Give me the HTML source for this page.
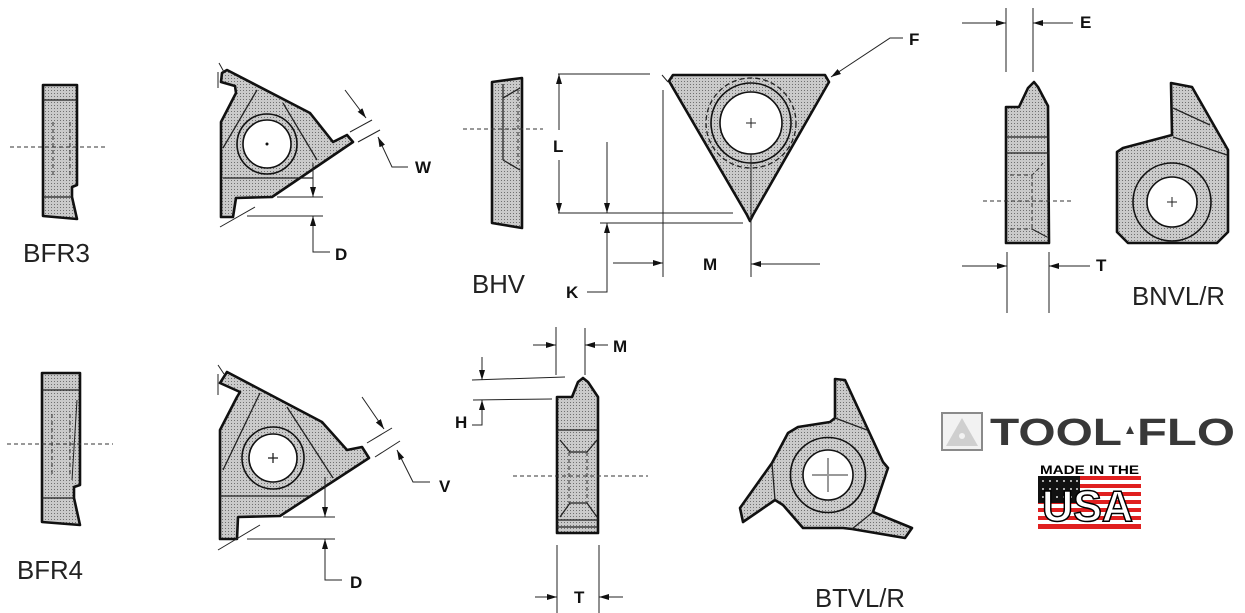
<!DOCTYPE html>
<html><head><meta charset="utf-8"><style>
html,body{margin:0;padding:0;background:#fff;}
svg{display:block;}
.o{fill:url(#p);stroke:#111;stroke-width:2.6;stroke-linejoin:round;}
.t{fill:none;stroke:#222;stroke-width:1;}
.m{fill:none;stroke:#222;stroke-width:1.3;}
.d{fill:none;stroke:#333;stroke-width:1;stroke-dasharray:4 3;}
.lb{font-family:"Liberation Sans",Arial,sans-serif;font-size:26px;fill:#222;}
.bl{font-family:"Liberation Sans",Arial,sans-serif;font-size:17px;font-weight:bold;fill:#111;}
</style></head><body>
<svg width="1245" height="613" viewBox="0 0 1245 613" xmlns="http://www.w3.org/2000/svg">
<defs>
<pattern id="p" width="3" height="3" patternUnits="userSpaceOnUse"><rect width="3" height="3" fill="#cacaca"/><rect width="1" height="1" fill="#707070"/></pattern>
<marker id="a" viewBox="0 0 10 6" refX="10" refY="3" markerWidth="10" markerHeight="6" orient="auto" markerUnits="userSpaceOnUse"><path d="M0,0 L10,3 L0,6z" fill="#111"/></marker>
</defs>

<!-- BFR3 -->
<polygon class="o" points="43,85 77,85 77,185 72,187 72,197 77,219 43,216"/>
<line class="m" x1="43" y1="100" x2="77" y2="100"/>
<line class="m" x1="43" y1="197" x2="72" y2="197"/>
<line class="d" x1="53" y1="122" x2="53" y2="178"/>
<line class="d" x1="70" y1="122" x2="70" y2="178"/>
<line class="d" x1="10" y1="147" x2="107" y2="147"/>
<text class="lb" x="23" y="262" textLength="67" lengthAdjust="spacingAndGlyphs">BFR3</text>

<!-- Top triangle insert -->
<polygon class="o" points="227,70 310,113 333,142 347,135 353,142 272,197 236,198 233,217 221,217 221,122 236,93 235,86 221,82 222,73"/>
<line class="m" x1="257" y1="90" x2="223" y2="148"/>
<line class="m" x1="283" y1="103" x2="317" y2="160"/>
<line class="m" x1="223" y1="178" x2="313" y2="178"/>
<circle cx="267" cy="144" r="30" fill="none" stroke="#111" stroke-width="1.6"/>
<circle cx="267" cy="144" r="24" fill="#fff" stroke="#111" stroke-width="1.6"/>
<circle cx="267" cy="144" r="1.5" fill="#111"/>
<line class="t" x1="219" y1="63" x2="224" y2="72"/>
<line class="t" x1="218" y1="72" x2="218" y2="88"/>
<line class="t" x1="220" y1="227" x2="255" y2="207"/>
<line class="t" x1="277" y1="197" x2="323" y2="197"/>
<line class="t" x1="247" y1="216" x2="323" y2="216"/>
<line class="t" x1="313" y1="163" x2="313" y2="197" marker-end="url(#a)"/>
<polyline class="t" points="330,252 313,252 313,216" marker-end="url(#a)"/>
<text class="bl" x="335" y="260">D</text>
<line class="t" x1="350" y1="132" x2="372" y2="120"/>
<line class="t" x1="358" y1="142" x2="380" y2="130"/>
<line class="t" x1="345" y1="90" x2="366" y2="118" marker-end="url(#a)"/>
<polyline class="t" points="408,167 392,167 378,137" marker-end="url(#a)"/>
<text class="bl" x="415" y="173">W</text>

<!-- BHV side -->
<polygon class="o" points="492,82 522,78 522,228 492,223"/>
<line class="m" x1="503" y1="84" x2="503" y2="160"/>
<line class="m" x1="503" y1="98" x2="520" y2="88"/>
<line class="m" x1="503" y1="160" x2="520" y2="170"/>
<line class="d" x1="518" y1="90" x2="518" y2="166"/>
<line class="d" x1="463" y1="129" x2="543" y2="129"/>
<text class="lb" x="472" y="293" textLength="53" lengthAdjust="spacingAndGlyphs">BHV</text>

<!-- BHV triangle -->
<polygon class="o" points="673,75 825,75 829,82 753,215 750,221 747,215 669,81"/>
<circle cx="751" cy="123" r="45" fill="none" stroke="#222" stroke-width="1.3" stroke-dasharray="5 3"/>
<circle cx="751" cy="123" r="40" fill="none" stroke="#111" stroke-width="1.6"/>
<circle cx="751" cy="123" r="31" fill="#fff" stroke="#111" stroke-width="1.6"/>
<line class="t" x1="746" y1="123" x2="756" y2="123"/>
<line class="t" x1="751" y1="118" x2="751" y2="128"/>
<line class="t" x1="751" y1="154" x2="751" y2="277"/>
<line class="t" x1="558" y1="74" x2="650" y2="74"/>
<line class="t" x1="662" y1="75" x2="668" y2="82"/>
<line class="t" x1="558" y1="213" x2="733" y2="213"/>
<line class="t" x1="559" y1="130" x2="559" y2="74" marker-end="url(#a)"/>
<line class="t" x1="559" y1="160" x2="559" y2="213" marker-end="url(#a)"/>
<text class="bl" x="553" y="152">L</text>
<line class="t" x1="607" y1="142" x2="607" y2="213" marker-end="url(#a)"/>
<line class="t" x1="600" y1="223" x2="743" y2="223"/>
<polyline class="t" points="587,292 607,292 607,223" marker-end="url(#a)"/>
<text class="bl" x="566" y="298">K</text>
<line class="t" x1="663" y1="90" x2="663" y2="277"/>
<line class="t" x1="613" y1="263" x2="663" y2="263" marker-end="url(#a)"/>
<text class="bl" x="703" y="270">M</text>
<line class="t" x1="820" y1="264" x2="751" y2="264" marker-end="url(#a)"/>
<polyline class="t" points="903,38 890,38 831,77" marker-end="url(#a)"/>
<text class="bl" x="909" y="45">F</text>

<!-- BNVL/R -->
<line class="t" x1="1006" y1="8" x2="1006" y2="72"/>
<line class="t" x1="1033" y1="8" x2="1033" y2="72"/>
<line class="t" x1="962" y1="23" x2="1006" y2="23" marker-end="url(#a)"/>
<line class="t" x1="1073" y1="23" x2="1033" y2="23" marker-end="url(#a)"/>
<text class="bl" x="1080" y="28">E</text>
<polygon class="o" points="1006,107 1019,107 1028,88 1034,82 1038,87 1048,106 1049,243 1006,243"/>
<line class="m" x1="1006" y1="137" x2="1049" y2="137"/>
<line class="m" x1="1006" y1="153" x2="1049" y2="153"/>
<path class="d" d="M1010,175 L1032,175 Q1038,170 1043,163"/>
<line class="d" x1="1032" y1="175" x2="1032" y2="229"/>
<line class="d" x1="1010" y1="229" x2="1032" y2="229"/>
<line class="t" x1="1032" y1="229" x2="1047" y2="237"/>
<line class="d" x1="983" y1="201" x2="1073" y2="201"/>
<line class="t" x1="1007" y1="252" x2="1007" y2="313"/>
<line class="t" x1="1049" y1="252" x2="1049" y2="313"/>
<line class="t" x1="962" y1="266" x2="1007" y2="266" marker-end="url(#a)"/>
<line class="t" x1="1090" y1="266" x2="1049" y2="266" marker-end="url(#a)"/>
<text class="bl" x="1096" y="271">T</text>
<polygon class="o" points="1171,83 1192,87 1228,150 1228,232 1217,243 1128,243 1117,232 1117,152 1123,148 1172,135"/>
<line class="m" x1="1173" y1="108" x2="1210" y2="125"/>
<line class="m" x1="1173" y1="137" x2="1227" y2="155"/>
<circle cx="1172" cy="202" r="39" fill="none" stroke="#111" stroke-width="1.6"/>
<circle cx="1172" cy="202" r="25" fill="#fff" stroke="#111" stroke-width="1.6"/>
<line class="t" x1="1167" y1="202" x2="1177" y2="202"/>
<line class="t" x1="1172" y1="197" x2="1172" y2="207"/>
<text class="lb" x="1132" y="305" textLength="93" lengthAdjust="spacingAndGlyphs">BNVL/R</text>

<!-- BFR4 -->
<polygon class="o" points="42,373 80,373 80,485 74,487 74,498 80,525 42,522"/>
<line class="m" x1="42" y1="390" x2="80" y2="390"/>
<line class="m" x1="42" y1="498" x2="74" y2="498"/>
<line class="d" x1="52" y1="414" x2="52" y2="476"/>
<line class="d" x1="70" y1="414" x2="70" y2="476"/>
<line class="t" x1="77" y1="400" x2="72" y2="480"/>
<line class="d" x1="7" y1="444" x2="113" y2="444"/>
<text class="lb" x="17" y="579" textLength="66" lengthAdjust="spacingAndGlyphs">BFR4</text>

<!-- Bottom triangle insert -->
<polygon class="o" points="227,372 322,422 347,450 362,447 369,458 280,516 238,517 237,539 220,539 220,430 237,397 240,392 220,383"/>
<line class="m" x1="260" y1="393" x2="223" y2="470"/>
<line class="m" x1="287" y1="407" x2="333" y2="478"/>
<line class="m" x1="220" y1="496" x2="310" y2="496"/>
<circle cx="273" cy="458" r="31" fill="none" stroke="#111" stroke-width="1.6"/>
<circle cx="273" cy="458" r="24" fill="#fff" stroke="#111" stroke-width="1.6"/>
<line class="m" x1="268" y1="458" x2="278" y2="458"/>
<line class="m" x1="273" y1="453" x2="273" y2="463"/>
<line class="t" x1="218" y1="365" x2="224" y2="374"/>
<line class="t" x1="218" y1="374" x2="218" y2="395"/>
<line class="t" x1="218" y1="550" x2="260" y2="525"/>
<line class="t" x1="283" y1="517" x2="335" y2="517"/>
<line class="t" x1="247" y1="539" x2="335" y2="539"/>
<line class="t" x1="325" y1="477" x2="325" y2="517" marker-end="url(#a)"/>
<polyline class="t" points="342,580 325,580 325,539" marker-end="url(#a)"/>
<text class="bl" x="350" y="588">D</text>
<line class="t" x1="367" y1="443" x2="392" y2="428"/>
<line class="t" x1="375" y1="457" x2="400" y2="441"/>
<line class="t" x1="362" y1="397" x2="384" y2="429" marker-end="url(#a)"/>
<polyline class="t" points="430,482 413,482 397,450" marker-end="url(#a)"/>
<text class="bl" x="439" y="492">V</text>

<!-- Middle bottom side view -->
<line class="t" x1="556" y1="327" x2="556" y2="375"/>
<line class="t" x1="585" y1="328" x2="585" y2="375"/>
<line class="t" x1="533" y1="345" x2="556" y2="345" marker-end="url(#a)"/>
<line class="t" x1="608" y1="345" x2="585" y2="345" marker-end="url(#a)"/>
<text class="bl" x="613" y="352">M</text>
<line class="t" x1="472" y1="380" x2="565" y2="377"/>
<line class="t" x1="473" y1="400" x2="552" y2="399"/>
<line class="t" x1="482" y1="357" x2="482" y2="380" marker-end="url(#a)"/>
<polyline class="t" points="472,425 482,425 482,400" marker-end="url(#a)"/>
<text class="bl" x="455" y="428">H</text>
<polygon class="o" points="557,397 572,397 578,382 583,378 588,382 598,397 598,533 557,533"/>
<line class="m" x1="557" y1="430" x2="598" y2="430"/>
<polyline class="m" points="560,440 570,452 587,452 597,440"/>
<line class="d" x1="569" y1="452" x2="569" y2="503"/>
<line class="d" x1="587" y1="452" x2="587" y2="503"/>
<polyline class="m" points="560,517 570,503 587,503 597,517"/>
<line class="m" x1="557" y1="520" x2="598" y2="520"/>
<line class="m" x1="557" y1="527" x2="598" y2="527"/>
<line class="d" x1="513" y1="476" x2="648" y2="476"/>
<line class="t" x1="557" y1="545" x2="557" y2="613"/>
<line class="t" x1="599" y1="545" x2="599" y2="613"/>
<line class="t" x1="535" y1="597" x2="557" y2="597" marker-end="url(#a)"/>
<line class="t" x1="623" y1="597" x2="599" y2="597" marker-end="url(#a)"/>
<text class="bl" x="574" y="603">T</text>

<!-- BTVL/R -->
<polygon class="o" points="835,379 845,380 883,462 888,468 873,512 912,528 905,538 852,529 843,528 803,528 783,505 775,500 743,522 740,508 772,463 788,433 798,427 830,422 835,418"/>
<line class="m" x1="835" y1="418" x2="867" y2="430"/>
<line class="m" x1="772" y1="463" x2="775" y2="500"/>
<line class="m" x1="873" y1="512" x2="852" y2="529"/>
<circle cx="828" cy="475" r="37.5" fill="none" stroke="#111" stroke-width="1.6"/>
<circle cx="828" cy="475" r="25" fill="#fff" stroke="#111" stroke-width="1.6"/>
<line x1="812" y1="475" x2="848" y2="475" stroke="#999" stroke-width="2"/>
<line x1="828" y1="458" x2="828" y2="492" stroke="#999" stroke-width="2"/>
<text class="lb" x="815" y="607" textLength="90" lengthAdjust="spacingAndGlyphs">BTVL/R</text>

<!-- TOOL FLO logo -->
<rect x="942" y="413" width="40" height="37" fill="#f2f2f2" stroke="#8a8a8a" stroke-width="2"/>
<polygon points="962,418 946,446 978,446" fill="#cfcfcf"/>
<circle cx="962" cy="436" r="3" fill="#f2f2f2"/>
<text x="990" y="445" font-family="'Liberation Sans',Arial,sans-serif" font-weight="bold" font-size="38" fill="#383838" textLength="132" lengthAdjust="spacingAndGlyphs">TOOL</text>
<polygon points="1130,426 1126,434 1134,434" fill="#383838"/>
<text x="1137" y="445" font-family="'Liberation Sans',Arial,sans-serif" font-weight="bold" font-size="38" fill="#383838" textLength="98" lengthAdjust="spacingAndGlyphs">FLO</text>

<!-- Made in USA -->
<text x="1040" y="474" font-family="'Liberation Sans',Arial,sans-serif" font-weight="bold" font-size="12" fill="#000" textLength="99" lengthAdjust="spacingAndGlyphs">MADE IN THE</text>
<rect x="1038" y="476" width="103" height="53" fill="#fff"/>
<g fill="#e02020">
<rect x="1038" y="476" width="103" height="4"/>
<rect x="1038" y="484" width="103" height="4"/>
<rect x="1038" y="492" width="103" height="4"/>
<rect x="1038" y="500" width="103" height="4"/>
<rect x="1038" y="508" width="103" height="4"/>
<rect x="1038" y="516" width="103" height="4"/>
<rect x="1038" y="524" width="103" height="5"/>
</g>
<rect x="1038" y="476" width="42" height="27" fill="#111"/>
<g fill="#ddd">
<circle cx="1043" cy="481" r="1"/><circle cx="1050" cy="481" r="1"/><circle cx="1057" cy="481" r="1"/><circle cx="1064" cy="481" r="1"/><circle cx="1071" cy="481" r="1"/><circle cx="1077" cy="481" r="1"/>
<circle cx="1043" cy="489" r="1"/><circle cx="1050" cy="489" r="1"/><circle cx="1057" cy="489" r="1"/><circle cx="1064" cy="489" r="1"/><circle cx="1071" cy="489" r="1"/><circle cx="1077" cy="489" r="1"/>
<circle cx="1043" cy="497" r="1"/><circle cx="1050" cy="497" r="1"/><circle cx="1057" cy="497" r="1"/><circle cx="1064" cy="497" r="1"/><circle cx="1071" cy="497" r="1"/><circle cx="1077" cy="497" r="1"/>
</g>
<text x="1042" y="521" font-family="'Liberation Sans',Arial,sans-serif" font-weight="bold" font-size="44" fill="#fff" stroke="#000" stroke-width="1.5" textLength="91" lengthAdjust="spacingAndGlyphs">USA</text>
</svg>
</body></html>
